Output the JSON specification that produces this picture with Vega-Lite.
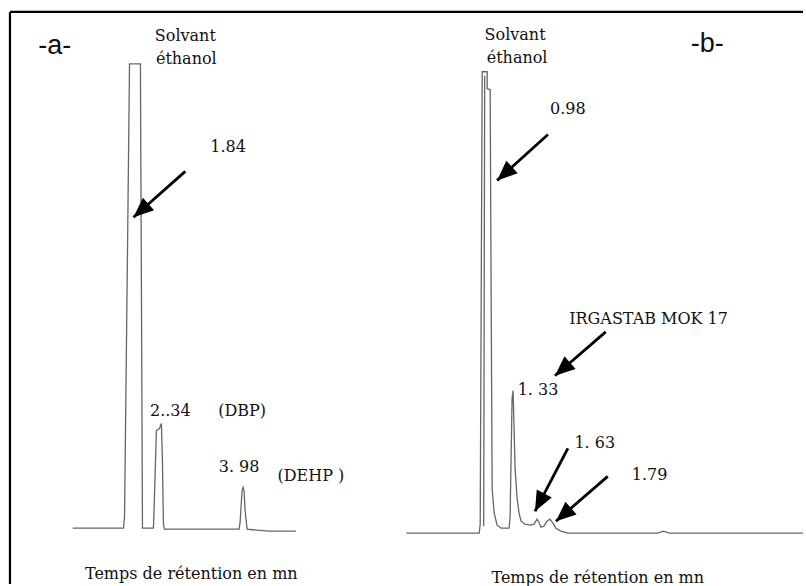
{
  "$schema": "https://vega.github.io/schema/vega-lite/v6.json",
  "width": 806,
  "height": 586,
  "padding": 0,
  "autosize": {"type": "fit", "contains": "padding"},
  "background": "white",
  "config": {"view": {"stroke": null}},
  "datasets": {
    "frame": [
      {"x": 10, "y": 12, "x2": 806, "y2": 12},
      {"x": 10, "y": 12, "x2": 10, "y2": 586}
    ],
    "traces": [
      {"s": "a", "i": 0, "x": 73, "y": 530},
      {"s": "a", "i": 1, "x": 124, "y": 530},
      {"s": "a", "i": 2, "x": 125, "y": 518},
      {"s": "a", "i": 3, "x": 128, "y": 250},
      {"s": "a", "i": 4, "x": 130, "y": 64},
      {"s": "a", "i": 5, "x": 141, "y": 64},
      {"s": "a", "i": 6, "x": 141, "y": 82},
      {"s": "a", "i": 7, "x": 142, "y": 300},
      {"s": "a", "i": 8, "x": 143, "y": 530},
      {"s": "a", "i": 9, "x": 154, "y": 530},
      {"s": "a", "i": 10, "x": 155, "y": 500},
      {"s": "a", "i": 11, "x": 157, "y": 432},
      {"s": "a", "i": 12, "x": 160, "y": 430},
      {"s": "a", "i": 13, "x": 162, "y": 425},
      {"s": "a", "i": 14, "x": 163, "y": 460},
      {"s": "a", "i": 15, "x": 164, "y": 525},
      {"s": "a", "i": 16, "x": 165, "y": 531},
      {"s": "a", "i": 17, "x": 240, "y": 531},
      {"s": "a", "i": 18, "x": 241, "y": 524},
      {"s": "a", "i": 19, "x": 243, "y": 492},
      {"s": "a", "i": 20, "x": 244, "y": 489},
      {"s": "a", "i": 21, "x": 245, "y": 493},
      {"s": "a", "i": 22, "x": 246, "y": 512},
      {"s": "a", "i": 23, "x": 248, "y": 531},
      {"s": "a", "i": 24, "x": 270, "y": 533},
      {"s": "a", "i": 25, "x": 297, "y": 533},
      {"s": "b", "i": 0, "x": 408, "y": 535},
      {"s": "b", "i": 1, "x": 481, "y": 535},
      {"s": "b", "i": 2, "x": 482, "y": 526},
      {"s": "b", "i": 3, "x": 484, "y": 72},
      {"s": "b", "i": 4, "x": 489, "y": 72},
      {"s": "b", "i": 5, "x": 489, "y": 89},
      {"s": "b", "i": 6, "x": 492, "y": 90},
      {"s": "b", "i": 7, "x": 493, "y": 300},
      {"s": "b", "i": 8, "x": 494, "y": 490},
      {"s": "b", "i": 9, "x": 496, "y": 515},
      {"s": "b", "i": 10, "x": 499, "y": 527},
      {"s": "b", "i": 11, "x": 503, "y": 530},
      {"s": "b", "i": 12, "x": 511, "y": 530},
      {"s": "b", "i": 13, "x": 512, "y": 518},
      {"s": "b", "i": 14, "x": 514, "y": 400},
      {"s": "b", "i": 15, "x": 515, "y": 392},
      {"s": "b", "i": 16, "x": 516, "y": 430},
      {"s": "b", "i": 17, "x": 517, "y": 470},
      {"s": "b", "i": 18, "x": 519, "y": 500},
      {"s": "b", "i": 19, "x": 521, "y": 515},
      {"s": "b", "i": 20, "x": 523, "y": 523},
      {"s": "b", "i": 21, "x": 527, "y": 526},
      {"s": "b", "i": 22, "x": 532, "y": 527},
      {"s": "b", "i": 23, "x": 536, "y": 526},
      {"s": "b", "i": 24, "x": 539, "y": 521},
      {"s": "b", "i": 25, "x": 541, "y": 524},
      {"s": "b", "i": 26, "x": 543, "y": 529},
      {"s": "b", "i": 27, "x": 546, "y": 528},
      {"s": "b", "i": 28, "x": 549, "y": 523},
      {"s": "b", "i": 29, "x": 552, "y": 521},
      {"s": "b", "i": 30, "x": 555, "y": 525},
      {"s": "b", "i": 31, "x": 558, "y": 530},
      {"s": "b", "i": 32, "x": 563, "y": 533},
      {"s": "b", "i": 33, "x": 570, "y": 535},
      {"s": "b", "i": 34, "x": 660, "y": 535},
      {"s": "b", "i": 35, "x": 666, "y": 533},
      {"s": "b", "i": 36, "x": 672, "y": 535},
      {"s": "b", "i": 37, "x": 806, "y": 535},
      {"s": "b2", "i": 0, "x": 486.5, "y": 76},
      {"s": "b2", "i": 1, "x": 486, "y": 300},
      {"s": "b2", "i": 2, "x": 485.5, "y": 528}
    ],
    "arrows": [
      {"tx": 186, "ty": 172, "hx": 134, "hy": 218, "dir": 228.5},
      {"tx": 550, "ty": 135, "hx": 499, "hy": 181, "dir": 228},
      {"tx": 608, "ty": 333, "hx": 557, "hy": 377, "dir": 229.2},
      {"tx": 570, "ty": 450, "hx": 537, "hy": 513, "dir": 207.6},
      {"tx": 610, "ty": 478, "hx": 558, "hy": 523, "dir": 229.1}
    ],
    "labels": [
      {"kind": "tag", "x": 55, "y": 54, "text": "-a-"},
      {"kind": "tag", "x": 710, "y": 52, "text": "-b-"},
      {"kind": "note", "x": 186, "y": 41, "text": "Solvant"},
      {"kind": "note", "x": 187, "y": 64, "text": "éthanol"},
      {"kind": "note", "x": 229, "y": 153, "text": "1.84"},
      {"kind": "note", "x": 171, "y": 417, "text": "2..34"},
      {"kind": "note", "x": 243, "y": 417, "text": "(DBP)"},
      {"kind": "note", "x": 240, "y": 474, "text": "3. 98"},
      {"kind": "note", "x": 312, "y": 483, "text": "(DEHP )"},
      {"kind": "note", "x": 192, "y": 581, "text": "Temps de rétention en mn"},
      {"kind": "note", "x": 517, "y": 40, "text": "Solvant"},
      {"kind": "note", "x": 519, "y": 63, "text": "éthanol"},
      {"kind": "note", "x": 570, "y": 114, "text": "0.98"},
      {"kind": "note", "x": 651, "y": 325, "text": "IRGASTAB MOK 17"},
      {"kind": "note", "x": 540, "y": 396, "text": "1. 33"},
      {"kind": "note", "x": 597, "y": 450, "text": "1. 63"},
      {"kind": "note", "x": 652, "y": 482, "text": "1.79"},
      {"kind": "note", "x": 600, "y": 585, "text": "Temps de rétention en mn"}
    ]
  },
  "layer": [
    {
      "data": {"name": "frame"},
      "mark": {"type": "rule", "color": "black", "strokeWidth": 2.2},
      "encoding": {
        "x": {"field": "x", "type": "quantitative", "scale": {"domain": [0, 806], "nice": false, "zero": false}, "axis": null},
        "y": {"field": "y", "type": "quantitative", "scale": {"domain": [0, 586], "nice": false, "zero": false, "reverse": true}, "axis": null},
        "x2": {"field": "x2"},
        "y2": {"field": "y2"}
      }
    },
    {
      "data": {"name": "traces"},
      "mark": {"type": "line", "color": "#666666", "strokeWidth": 1.3, "interpolate": "linear"},
      "encoding": {
        "x": {"field": "x", "type": "quantitative", "scale": {"domain": [0, 806], "nice": false, "zero": false}, "axis": null},
        "y": {"field": "y", "type": "quantitative", "scale": {"domain": [0, 586], "nice": false, "zero": false, "reverse": true}, "axis": null},
        "detail": {"field": "s", "type": "nominal"},
        "order": {"field": "i", "type": "quantitative"}
      }
    },
    {
      "data": {"name": "arrows"},
      "mark": {"type": "rule", "color": "black", "strokeWidth": 2.8},
      "encoding": {
        "x": {"field": "tx", "type": "quantitative", "scale": {"domain": [0, 806], "nice": false, "zero": false}, "axis": null},
        "y": {"field": "ty", "type": "quantitative", "scale": {"domain": [0, 586], "nice": false, "zero": false, "reverse": true}, "axis": null},
        "x2": {"field": "hx"},
        "y2": {"field": "hy"}
      }
    },
    {
      "data": {"name": "arrows"},
      "mark": {"type": "point", "shape": "M0,0L0.85,2L-0.85,2Z", "filled": true, "color": "black", "opacity": 1, "size": 400, "strokeWidth": 0},
      "encoding": {
        "x": {"field": "hx", "type": "quantitative", "scale": {"domain": [0, 806], "nice": false, "zero": false}, "axis": null},
        "y": {"field": "hy", "type": "quantitative", "scale": {"domain": [0, 586], "nice": false, "zero": false, "reverse": true}, "axis": null},
        "angle": {"field": "dir", "type": "quantitative", "scale": null}
      }
    },
    {
      "data": {"name": "labels"},
      "transform": [{"filter": "datum.kind === 'note'"}],
      "mark": {"type": "text", "font": "DejaVu Serif", "fontSize": 16, "color": "#111", "align": "center", "baseline": "alphabetic"},
      "encoding": {
        "x": {"field": "x", "type": "quantitative", "scale": {"domain": [0, 806], "nice": false, "zero": false}, "axis": null},
        "y": {"field": "y", "type": "quantitative", "scale": {"domain": [0, 586], "nice": false, "zero": false, "reverse": true}, "axis": null},
        "text": {"field": "text", "type": "nominal"}
      }
    },
    {
      "data": {"name": "labels"},
      "transform": [{"filter": "datum.kind === 'tag'"}],
      "mark": {"type": "text", "font": "Liberation Sans", "fontSize": 27, "color": "#111", "align": "center", "baseline": "alphabetic"},
      "encoding": {
        "x": {"field": "x", "type": "quantitative", "scale": {"domain": [0, 806], "nice": false, "zero": false}, "axis": null},
        "y": {"field": "y", "type": "quantitative", "scale": {"domain": [0, 586], "nice": false, "zero": false, "reverse": true}, "axis": null},
        "text": {"field": "text", "type": "nominal"}
      }
    }
  ]
}
